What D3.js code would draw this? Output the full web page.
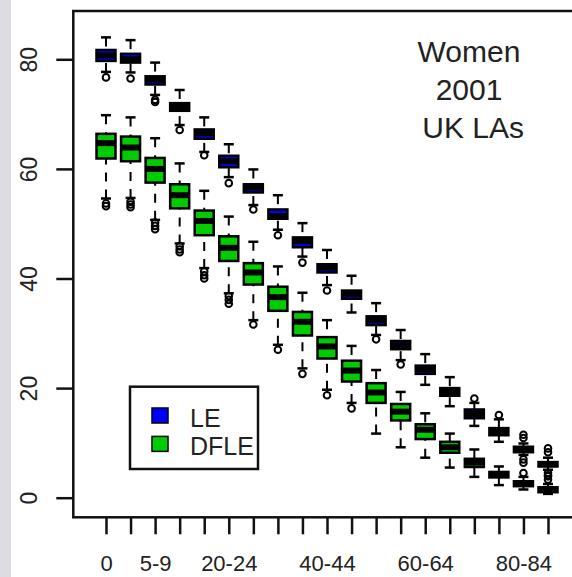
<!DOCTYPE html>
<html><head><meta charset="utf-8">
<script src="https://cdn.jsdelivr.net/npm/d3@7"></script>
<style>html,body{margin:0;padding:0;background:#fff;} svg{display:block;}</style>
</head><body>
<svg id="c" width="572" height="577"></svg>
<script>
const ageGroups = ["0","1-4","5-9","10-14","15-19","20-24","25-29","30-34","35-39","40-44","45-49","50-54","55-59","60-64","65-69","70-74","75-79","80-84","85+"];
const shownLabels = ["0","5-9","20-24","40-44","60-64","80-84"];
const yTicks = [0,20,40,60,80];
const titleLines = ["Women","2001"," UK LAs"];
const seriesNames = ["LE","DFLE"];
const seriesColors = ["#0000FF","#00CC00"];

// LE (life expectancy) box statistics
const leLow  = [77.7,77.6,73.5,68.0,63.1,58.5,53.4,48.9,44.0,38.8,33.8,29.7,25.1,20.6,16.7,13.1,10.2,7.8,5.1];
const leQ1   = [79.7,79.4,75.4,70.6,65.5,60.3,55.7,50.9,45.7,41.1,36.3,31.5,27.1,22.6,18.6,14.5,11.4,8.3,5.7];
const leMed  = [80.7,80.0,76.3,71.3,66.5,61.4,56.6,51.4,46.8,42.0,37.2,32.4,27.8,23.4,19.3,15.3,12.1,8.8,6.1];
const leQ3   = [81.7,81.0,76.9,72.0,67.2,62.4,57.2,52.6,47.5,42.6,37.8,33.1,28.6,24.1,20.0,16.1,12.7,9.3,6.5];
const leHigh = [84.0,83.5,79.4,74.4,69.4,64.5,59.9,55.2,50.1,45.2,40.5,35.5,30.6,26.2,22.0,17.3,14.3,9.9,7.3];
const leOut  = [[76.7],[76.5],[72.6,72.2],[67.1],[62.5],[57.4],[52.6],[47.9],[42.9],[37.8],[],[28.9],[24.3],[],[],[18.1],[15.1],[10.9,11.5,7.0,6.4],[8.3,9.0,4.5,3.9]];

// DFLE (disability-free life expectancy) box statistics
const dfLow  = [54.6,54.7,50.7,46.4,41.9,37.3,32.4,27.9,23.6,19.7,17.3,11.7,9.2,7.3,5.5,3.8,2.3,1.5,0.7];
const dfQ1   = [61.9,61.4,57.5,52.8,47.9,43.2,38.9,34.1,29.6,25.4,21.2,17.3,14.1,10.7,8.2,5.6,3.7,2.1,1.0];
const dfMed  = [64.7,63.9,60.0,55.2,50.5,45.6,41.1,36.6,32.1,27.6,23.2,19.2,15.7,12.4,9.2,6.4,4.2,2.6,1.4];
const dfQ3   = [66.4,65.9,62.0,57.2,52.4,47.7,42.8,38.5,33.9,29.3,25.0,20.9,17.1,13.4,10.2,7.1,4.7,3.0,1.9];
const dfHigh = [69.8,69.4,65.6,61.0,56.0,51.3,46.7,42.2,37.4,32.4,27.7,23.3,19.3,15.4,11.7,8.8,5.7,3.8,2.5];
const dfOut  = [[53.7,53.2],[54.0,53.5,53.0],[50.2,49.6,49.0],[45.9,45.3,44.8],[41.3,40.6,40.0],[36.8,36.1,35.4],[31.6],[27.0],[22.6],[18.7],[16.3],[],[],[],[],[],[],[4.5],[3.3,4.1]];

const series = [
  {low: leLow, q1: leQ1, med: leMed, q3: leQ3, high: leHigh, out: leOut, color: seriesColors[0]},
  {low: dfLow, q1: dfQ1, med: dfMed, q3: dfQ3, high: dfHigh, out: dfOut, color: seriesColors[1]}
];

const W = 572, H = 577;
const frame = {left: 73.3, top: 11, right: 579, bottom: 517.3};
const font = "'Liberation Sans', Arial, sans-serif";

const svg = d3.select("#c");
svg.append("rect").attr("width", W).attr("height", H).attr("fill", "#fff");
svg.append("rect").attr("x", 0).attr("y", 0).attr("width", 11).attr("height", H).attr("fill", "#dcdce2");

const x = d3.scaleLinear().domain([1, 19]).range([106, 548]);
const y = d3.scaleLinear().domain([0, 80]).range([497.7, 59.3]);

// Y axis
const yAxis = svg.append("g").attr("transform", `translate(${frame.left},0)`)
  .call(d3.axisLeft(y).tickValues(yTicks).tickSize(17).tickFormat(d3.format("d")));
yAxis.select(".domain").remove();
yAxis.selectAll(".tick line").attr("stroke", "#111").attr("stroke-width", 2.5);
yAxis.selectAll(".tick text")
  .attr("transform", "rotate(-90)").attr("x", 0).attr("y", -36.3).attr("dy", 0)
  .attr("text-anchor", "middle").attr("fill", "#222")
  .style("font-family", font).style("font-size", "23px");

// X axis
const xAxis = svg.append("g").attr("transform", `translate(0,${frame.bottom})`)
  .call(d3.axisBottom(x).tickValues(d3.range(1, ageGroups.length + 1)).tickSize(17)
    .tickFormat(i => shownLabels.includes(ageGroups[i - 1]) ? ageGroups[i - 1] : ""));
xAxis.select(".domain").remove();
xAxis.selectAll(".tick line").attr("stroke", "#111").attr("stroke-width", 2.5);
xAxis.selectAll(".tick text")
  .attr("y", 571.5 - frame.bottom).attr("dy", 0).attr("fill", "#222")
  .style("font-family", font).style("font-size", "22px");

// Boxes
const boxHalf = 9.5, capHalf = 5;
series.forEach(s => {
  const g = svg.append("g");
  ageGroups.forEach((name, k) => {
    const cx = x(k + 1);
    g.append("line").attr("x1", cx).attr("x2", cx).attr("y1", y(s.high[k])).attr("y2", y(s.q3[k]))
      .attr("stroke", "#000").attr("stroke-width", 2).attr("stroke-dasharray", "9,8");
    g.append("line").attr("x1", cx).attr("x2", cx).attr("y1", y(s.low[k])).attr("y2", y(s.q1[k]))
      .attr("stroke", "#000").attr("stroke-width", 2).attr("stroke-dasharray", "9,8");
    [s.high[k], s.low[k]].forEach(v => {
      g.append("line").attr("x1", cx - capHalf).attr("x2", cx + capHalf).attr("y1", y(v)).attr("y2", y(v))
        .attr("stroke", "#000").attr("stroke-width", 2.5);
    });
    g.append("rect").attr("x", cx - boxHalf).attr("width", boxHalf * 2)
      .attr("y", y(s.q3[k])).attr("height", y(s.q1[k]) - y(s.q3[k]))
      .attr("fill", s.color).attr("stroke", "#000").attr("stroke-width", 2.5);
    g.append("line").attr("x1", cx - boxHalf).attr("x2", cx + boxHalf).attr("y1", y(s.med[k])).attr("y2", y(s.med[k]))
      .attr("stroke", "#000").attr("stroke-width", 6);
    s.out[k].forEach(v => {
      g.append("circle").attr("cx", cx).attr("cy", y(v)).attr("r", 3.3)
        .attr("fill", "none").attr("stroke", "#000").attr("stroke-width", 2);
    });
  });
});

// Frame
svg.append("rect").attr("x", frame.left).attr("y", frame.top)
  .attr("width", frame.right - frame.left).attr("height", frame.bottom - frame.top)
  .attr("fill", "none").attr("stroke", "#111").attr("stroke-width", 2.5);

// Legend
const lg = svg.append("g");
lg.append("rect").attr("x", 130).attr("y", 386.7).attr("width", 128).attr("height", 82.3)
  .attr("fill", "#fff").attr("stroke", "#111").attr("stroke-width", 2.5);
seriesNames.forEach((n, k) => {
  lg.append("rect").attr("x", 152).attr("y", 408 + k * 28.4).attr("width", 16).attr("height", 15)
    .attr("fill", seriesColors[k]).attr("stroke", "#000").attr("stroke-width", 1.5);
  lg.append("text").attr("x", 190).attr("y", 426.7 + k * 28.4).text(n)
    .attr("fill", "#222").style("font-family", font).style("font-size", "25px");
});

// Title text
titleLines.forEach((t, k) => {
  svg.append("text").attr("x", 469).attr("y", 62 + k * 38).attr("text-anchor", "middle")
    .style("white-space", "pre").attr("fill", "#222")
    .style("font-family", font).style("font-size", "30px").text(t);
});
</script>
</body></html>
